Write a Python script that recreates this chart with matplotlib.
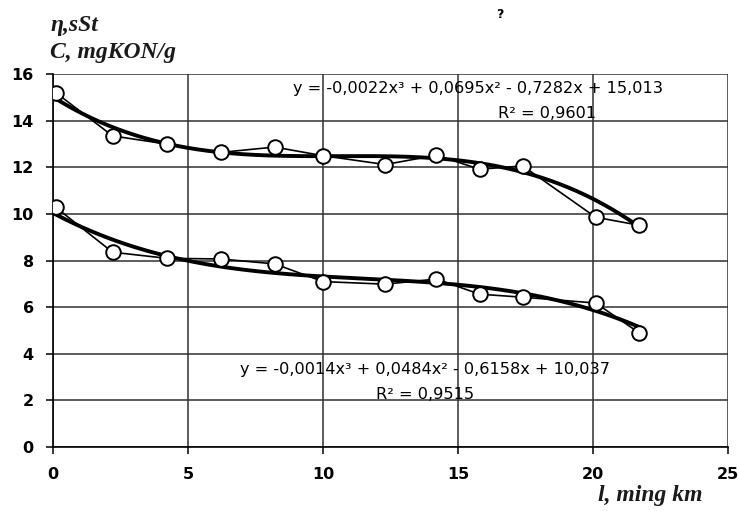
import numpy as np
import matplotlib.pyplot as plt

# masofa, ming km
l_km = [0.1, 2.2, 4.2, 6.2, 8.2, 10.0, 12.3, 14.2, 15.8, 17.4, 20.1, 21.7]
# qovushqoqlik, sSt (yuqori egri chiziq)
eta = [15.2, 13.35, 13.0, 12.64, 12.87, 12.5, 12.12, 12.52, 11.92, 12.06, 9.86, 9.52]
# kislota soni, mgKON/g (pastki egri chiziq)
c_kon = [10.28, 8.36, 8.1, 8.07, 7.86, 7.1, 6.99, 7.21, 6.56, 6.43, 6.18, 4.91]

# Excel trend tenglamalari (3-darajali polinom)
coef_eta = [-0.0022, 0.0695, -0.7282, 15.013]
coef_c = [-0.0014, 0.0484, -0.6158, 10.037]
eq_eta = "y = -0,0022x³ + 0,0695x² - 0,7282x + 15,013"
r2_eta = "R² = 0,9601"
eq_c = "y = -0,0014x³ + 0,0484x² - 0,6158x + 10,037"
r2_c = "R² = 0,9515"

fig = plt.figure(figsize=(7.39, 5.11), dpi=100)
ax = fig.add_axes([0.072, 0.125, 0.913, 0.73])

xx = np.linspace(l_km[0], l_km[-1], 200)
for y, c in [(eta, coef_eta), (c_kon, coef_c)]:
    ax.plot(xx, np.polyval(c, xx), color="black", lw=2.8, zorder=3)
    ax.plot(l_km, y, color="black", lw=1.2, marker="o", ms=10.5,
            mfc="white", mec="black", mew=1.4, zorder=4)

ax.set_xlim(0, 25)
ax.set_ylim(0, 16)
ax.set_xticks(range(0, 26, 5))
ax.set_yticks(range(0, 17, 2))
ax.grid(True, color="#303030", lw=1.1)
ax.set_axisbelow(True)
for s in ["top", "right"]:
    ax.spines[s].set_visible(False)
ax.spines["left"].set_linewidth(1.2)
ax.spines["bottom"].set_linewidth(1.2)
ax.tick_params(direction="out", length=5, width=1.1, pad=9,
               labelsize=11.5)
for lab in ax.get_xticklabels() + ax.get_yticklabels():
    lab.set_fontweight("bold")

eq_font = dict(fontsize=11.6, family="DejaVu Sans", ha="center", va="center")
ax.text(15.75, 15.4, eq_eta, **eq_font)
ax.text(18.3, 14.33, r2_eta, **eq_font)
ax.text(13.76, 3.31, eq_c, **eq_font)
ax.text(13.76, 2.24, r2_c, **eq_font)

lab_font = dict(family="Liberation Serif", style="italic", weight="bold",
                fontsize=17, color="#1a1a1a")
fig.text(0.068, 0.95, "η,sSt", ha="left", va="center", **lab_font)
fig.text(0.068, 0.897, "C, mgKON/g", ha="left", va="center", **lab_font)
fig.text(0.95, 0.031, "l, ming km", ha="right", va="center", **lab_font)
fig.text(0.677, 0.972, "?", ha="center", va="center", fontsize=9,
         fontweight="bold")

fig.savefig("out.png", dpi=100)
